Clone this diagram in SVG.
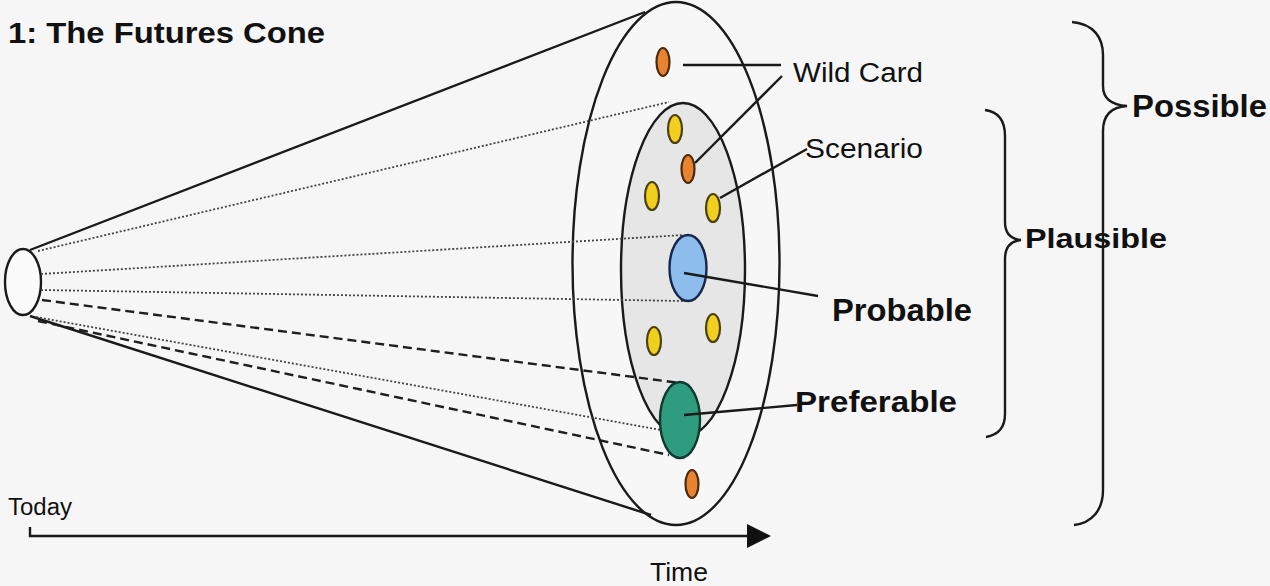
<svg xmlns="http://www.w3.org/2000/svg" width="1270" height="586" viewBox="0 0 1270 586">
<defs>
<style>
.ln{stroke:#1a1a1a;stroke-width:2.4;fill:none}
.dot{stroke:#444;stroke-width:1.8;stroke-dasharray:2 2;fill:none}
.dash{stroke:#1e1e1e;stroke-width:2.4;stroke-dasharray:9 5;fill:none}
.t{font-family:"Liberation Sans",Arial,sans-serif;fill:#111}
.b{font-weight:bold}
.or{fill:#e8832f;stroke:#4a2a10;stroke-width:2.2}
.ye{fill:#f0cf1e;stroke:#4a4010;stroke-width:2.2}
</style>
<marker id="arr" viewBox="0 0 24 24" refX="0" refY="12" markerWidth="24" markerHeight="24" markerUnits="userSpaceOnUse" orient="auto">
<path d="M0,0 L24,12 L0,24 Z" fill="#111"/>
</marker>
</defs>
<rect width="1270" height="586" fill="#f6f6f6"/>
<g id="title"><text class="t b" x="8" y="43" font-size="29" textLength="317" lengthAdjust="spacingAndGlyphs">1: The Futures Cone</text></g>
<g id="cone">
<ellipse cx="676" cy="263.5" rx="103.5" ry="261.5" fill="#f7f7f7" stroke="#1a1a1a" stroke-width="2.4"/>
<line class="ln" x1="30" y1="250" x2="645" y2="12"/>
<line class="ln" x1="30" y1="316" x2="651" y2="515"/>
<ellipse cx="23" cy="282" rx="18" ry="33" fill="#fbfbfb" stroke="#1a1a1a" stroke-width="2.4"/>
</g>
<g id="plausible-zone">
<ellipse cx="683" cy="270" rx="62" ry="167" fill="#e6e6e6" stroke="#1a1a1a" stroke-width="2.4"/>
</g>
<g id="connectors">
<line class="dot" x1="38" y1="251" x2="669" y2="102"/>
<line class="dot" x1="41" y1="274" x2="683" y2="235"/>
<line class="dot" x1="41" y1="290" x2="683" y2="301"/>
<line class="dash" x1="42" y1="300" x2="680" y2="383"/>
<line class="dot" x1="36" y1="317" x2="661" y2="430"/>
<line class="dash" x1="38" y1="321" x2="669" y2="455"/>
<line class="ln" x1="683" y1="65" x2="781" y2="65"/>
<line class="ln" x1="695" y1="163" x2="782" y2="76"/>
<line class="ln" x1="720" y1="198" x2="807" y2="149"/>
</g>
<g id="wildcard-dots">
<ellipse class="or" cx="663" cy="62" rx="6.5" ry="14"/>
<ellipse class="or" cx="688" cy="169" rx="6.5" ry="14"/>
<ellipse class="or" cx="692" cy="484" rx="6.5" ry="14"/>
</g>
<g id="scenario-dots">
<ellipse class="ye" cx="675" cy="129" rx="7" ry="14"/>
<ellipse class="ye" cx="652" cy="196" rx="7" ry="14"/>
<ellipse class="ye" cx="713" cy="208" rx="7" ry="14"/>
<ellipse class="ye" cx="654" cy="341" rx="7" ry="14"/>
<ellipse class="ye" cx="713" cy="328" rx="7" ry="14"/>
</g>
<g id="probable">
<ellipse cx="688" cy="268" rx="18.5" ry="33" fill="#8dbdec" stroke="#17264a" stroke-width="2.4"/>
<line class="ln" x1="684" y1="273" x2="818" y2="296"/>
<text class="t b" x="832" y="321" font-size="31" textLength="140" lengthAdjust="spacingAndGlyphs">Probable</text>
</g>
<g id="preferable">
<ellipse cx="680" cy="420" rx="20" ry="38" fill="#2f9c80" stroke="#0f3a2e" stroke-width="2.4"/>
<line class="ln" x1="684" y1="415" x2="797" y2="405"/>
<text class="t b" x="795" y="412" font-size="30" textLength="162" lengthAdjust="spacingAndGlyphs">Preferable</text>
</g>
<g id="wildcard-label"><text class="t" x="793" y="82" font-size="27" textLength="130" lengthAdjust="spacingAndGlyphs">Wild Card</text></g>
<g id="scenario-label"><text class="t" x="805" y="158" font-size="27" textLength="118" lengthAdjust="spacingAndGlyphs">Scenario</text></g>
<g id="plausible-brace">
<path class="ln" d="M985,110 C1000,112 1005,122 1005,136 L1005,222 C1005,233 1010,239 1021,240 C1010,241 1005,248 1005,259 L1005,414 C1005,428 998,435 986,437"/>
<text class="t b" x="1025" y="248" font-size="28" textLength="142" lengthAdjust="spacingAndGlyphs">Plausible</text>
</g>
<g id="possible-brace">
<path class="ln" d="M1072,22 C1094,24 1103,38 1103,55 L1103,86 C1103,98 1111,105 1127,106 C1111,107 1103,116 1103,131 L1103,490 C1103,510 1092,523 1074,525"/>
<text class="t b" x="1132" y="117" font-size="32" textLength="135" lengthAdjust="spacingAndGlyphs">Possible</text>
</g>
<g id="time-axis">
<path class="ln" d="M30,527 L30,536 L747,536" marker-end="url(#arr)"/>
<text class="t" x="8" y="515" font-size="23" textLength="64" lengthAdjust="spacingAndGlyphs">Today</text>
<text class="t" x="650" y="581" font-size="25" textLength="58" lengthAdjust="spacingAndGlyphs">Time</text>
</g>
</svg>
